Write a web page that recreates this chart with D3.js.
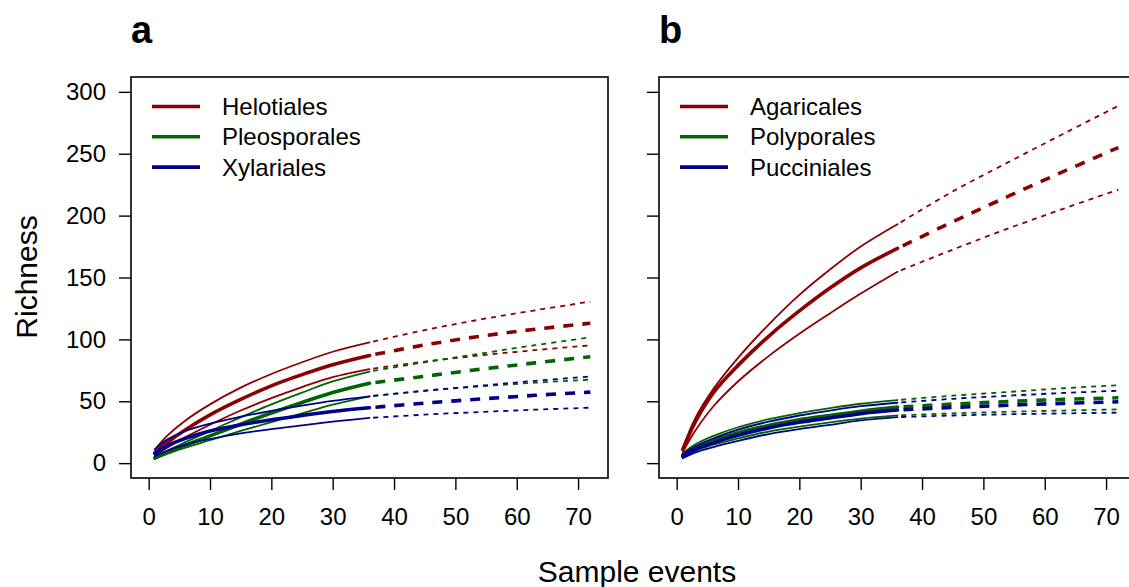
<!DOCTYPE html>
<html>
<head>
<meta charset="utf-8">
<script src="https://cdn.jsdelivr.net/npm/d3@7"></script>
<style>
  html, body { margin: 0; padding: 0; background: #fff; }
  svg { display: block; font-family: "Liberation Sans", Arial, Helvetica, sans-serif; }
</style>
</head>
<body>
<svg id="chart" width="1129" height="587"></svg>
<script>
// Sample events at which richness is estimated; up to 36 is rarefaction, beyond is extrapolation
const xSamples = [1, 3, 6, 10, 15, 20, 25, 30, 36, 45, 54, 63, 72];
const observedEnd = 36;

// Panel a: Helotiales, Pleosporales, Xylariales (lower CI, mean, upper CI)
const helotialesLower = [6, 12.5, 21, 31, 42.5, 52.5, 61.5, 69.5, 76, 82, 87, 91.3, 95.2];
const helotialesMean  = [8, 16.5, 27, 39, 51.5, 62.5, 71.5, 79.5, 87, 95.5, 102.5, 108.2, 113];
const helotialesUpper = [11, 22, 34.5, 47.5, 61, 72, 81.5, 90, 97.6, 107.5, 116, 123.5, 130.5];

const pleosporalesLower = [3.5, 7.5, 12.5, 18.5, 26, 33.2, 40.2, 47.2, 54, 58.5, 62, 65, 67.5];
const pleosporalesMean  = [4, 8.5, 14.5, 22, 31.5, 40.5, 49, 57, 64.5, 70.2, 75.8, 81, 86];
const pleosporalesUpper = [4.5, 10, 17, 26, 37, 47.5, 57, 66, 74, 81.5, 88.5, 95.3, 101.6];

const xylarialesLower = [5.5, 10, 15, 19.5, 24, 27.5, 30.5, 33.5, 36.5, 39.2, 41.3, 43.2, 44.8];
const xylarialesMean  = [8, 14, 20, 26, 31, 35, 38.5, 41.8, 44.8, 48.5, 51.8, 54.8, 57.4];
const xylarialesUpper = [11, 19, 26, 32, 37.5, 42.3, 46.5, 50.3, 54, 58.5, 62.5, 66.5, 70];

// Panel b: Agaricales, Polyporales, Pucciniales
const agaricalesLower = [9, 26, 46, 66, 86.5, 104.5, 121, 137, 154.7, 172.5, 189.5, 205.5, 221];
const agaricalesMean  = [11, 33, 57, 79, 102.5, 123, 141.5, 157.8, 173.5, 195, 215.5, 235.5, 255];
const agaricalesUpper = [12, 36, 60, 85, 112, 136, 156.5, 175, 193, 219.5, 243, 266, 288.7];

const polyporalesLower = [5, 10, 15, 20, 25.5, 29.5, 33, 36, 38.6, 40.2, 41.5, 42.5, 43.4];
const polyporalesMean  = [6.5, 12.5, 18.5, 24.5, 30.5, 35, 38.5, 42, 45.3, 47.7, 49.8, 51.5, 52.8];
const polyporalesUpper = [8, 15, 22, 29, 35.5, 40.5, 44.5, 48, 51, 54.5, 57.5, 60.5, 63];

const puccinialesLower = [4, 8.5, 13, 18, 23.5, 27.5, 31, 34.5, 37.2, 38.5, 39.5, 40.2, 40.8];
const puccinialesMean  = [5.5, 11, 16.5, 22.5, 28.5, 33, 36.5, 40, 42.9, 45, 46.8, 48.3, 49.6];
const puccinialesUpper = [7, 13.5, 20, 27, 33.5, 38.5, 42.5, 46, 48.8, 52, 54.5, 56.7, 58.5];

// Axis ticks
const xTicks = [0, 10, 20, 30, 40, 50, 60, 70];
const yTicks = [0, 50, 100, 150, 200, 250, 300];

const colors = { red: "#8b0000", green: "#006400", blue: "#00008b" };

const panels = [
  {
    letter: "a", left: 131, showYLabels: true,
    series: [
      { name: "Helotiales", color: colors.red, lower: helotialesLower, mean: helotialesMean, upper: helotialesUpper },
      { name: "Pleosporales", color: colors.green, lower: pleosporalesLower, mean: pleosporalesMean, upper: pleosporalesUpper },
      { name: "Xylariales", color: colors.blue, lower: xylarialesLower, mean: xylarialesMean, upper: xylarialesUpper }
    ]
  },
  {
    letter: "b", left: 659, showYLabels: false,
    series: [
      { name: "Agaricales", color: colors.red, lower: agaricalesLower, mean: agaricalesMean, upper: agaricalesUpper },
      { name: "Polyporales", color: colors.green, lower: polyporalesLower, mean: polyporalesMean, upper: polyporalesUpper },
      { name: "Pucciniales", color: colors.blue, lower: puccinialesLower, mean: puccinialesMean, upper: puccinialesUpper }
    ]
  }
];

const svg = d3.select("#chart");
const plotW = 477, plotTop = 77, plotBottom = 478;
const tickFont = 24;

const y = d3.scaleLinear().domain([-12, 312]).range([plotBottom, plotTop]);

panels.forEach(p => {
  const x = d3.scaleLinear().domain([-2.88, 74.88]).range([p.left, p.left + plotW]);
  const g = svg.append("g");

  // panel letter
  g.append("text")
    .attr("x", p.left).attr("y", 43)
    .attr("font-size", 38).attr("font-weight", "bold")
    .text(p.letter);

  // y axis
  const yAxis = d3.axisLeft(y).tickValues(yTicks).tickSize(12).tickPadding(13)
    .tickFormat(p.showYLabels ? d3.format("d") : () => "");
  const ya = g.append("g").attr("transform", `translate(${p.left},0)`).call(yAxis);
  ya.select(".domain").remove();
  ya.selectAll("line").attr("stroke", "#000").attr("stroke-width", 1.4);
  ya.selectAll("text").attr("font-size", tickFont).attr("fill", "#000")
    .attr("font-family", "Liberation Sans, Arial, sans-serif");

  // x axis
  const xAxis = d3.axisBottom(x).tickValues(xTicks).tickSize(12).tickPadding(18);
  const xa = g.append("g").attr("transform", `translate(0,${plotBottom})`).call(xAxis);
  xa.select(".domain").remove();
  xa.selectAll("line").attr("stroke", "#000").attr("stroke-width", 1.4);
  xa.selectAll("text").attr("font-size", tickFont).attr("fill", "#000")
    .attr("font-family", "Liberation Sans, Arial, sans-serif");

  // curves: solid for rarefaction, dashed for extrapolation
  const line = d3.line().x(d => x(d[0])).y(d => y(d[1])).curve(d3.curveCatmullRom.alpha(0.5));
  const split = xSamples.indexOf(observedEnd);
  const curves = g.append("g").attr("fill", "none");

  p.series.forEach(s => {
    [["lower", 1.8], ["upper", 1.8], ["mean", 3.6]].forEach(([key, w]) => {
      const pts = xSamples.map((v, i) => [v, s[key][i]]);
      const isMean = key === "mean";
      curves.append("path")
        .attr("d", line(pts.slice(0, split + 1)))
        .attr("stroke", s.color).attr("stroke-width", w)
        .attr("stroke-linecap", "round");
      curves.append("path")
        .attr("d", line(pts.slice(split)))
        .attr("stroke", s.color).attr("stroke-width", w)
        .attr("stroke-dasharray", isMean ? "10,9" : "5,5")
        .attr("stroke-dashoffset", isMean ? -6 : -4);
    });
  });

  // frame
  g.append("rect")
    .attr("x", p.left).attr("y", plotTop)
    .attr("width", plotW).attr("height", plotBottom - plotTop)
    .attr("fill", "none").attr("stroke", "#000").attr("stroke-width", 1.6);

  // legend
  const lg = g.append("g");
  p.series.forEach((s, i) => {
    const ly = 106.5 + i * 30.3;
    lg.append("line")
      .attr("x1", p.left + 21).attr("x2", p.left + 69)
      .attr("y1", ly).attr("y2", ly)
      .attr("stroke", s.color).attr("stroke-width", 3.6);
    lg.append("text")
      .attr("x", p.left + 91).attr("y", ly)
      .attr("dy", "0.36em")
      .attr("font-size", 24).attr("fill", "#000")
      .text(s.name);
  });
});

// axis titles
svg.append("text")
  .attr("transform", "translate(37,277) rotate(-90)")
  .attr("text-anchor", "middle")
  .attr("font-size", 30).attr("fill", "#000")
  .text("Richness");

svg.append("text")
  .attr("x", 637).attr("y", 582)
  .attr("text-anchor", "middle")
  .attr("font-size", 30).attr("fill", "#000")
  .text("Sample events");
</script>
</body>
</html>
